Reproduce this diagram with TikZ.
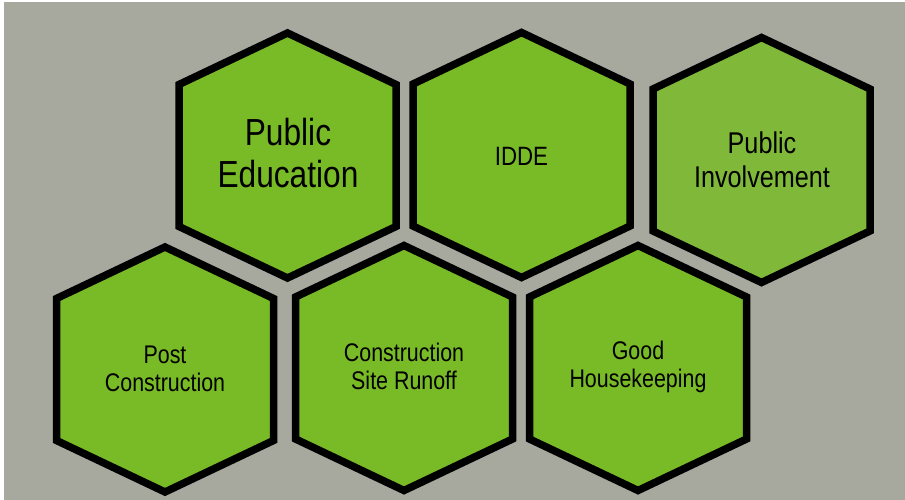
\documentclass[tikz,border=0pt]{standalone}
\usepackage{fontspec}
\setmainfont{Liberation Sans}
\newfontfamily\narrowsans[FakeStretch=0.84]{Liberation Sans}
\definecolor{boardgray}{HTML}{A7A89E}
\definecolor{leafgreen}{HTML}{79BB26}
\definecolor{paleleaf}{HTML}{80B93A}
\begin{document}
\begin{tikzpicture}[x=1pt,y=-1pt,
  hexline/.style={draw=black,line width=7.5pt,line join=miter,fill=leafgreen},
  celltext/.style={font=\narrowsans\fontsize{25.5}{27.5}\selectfont,align=center,text=black,inner sep=0pt},
  pics/hexcell/.style={code={
    \path[hexline,#1] (0,-122.5) -- (108.5,-71) -- (108.5,71) -- (0,122.5)
      -- (-108.5,71) -- (-108.5,-71) -- cycle;}},
  pics/hexcell/.default={}]
  % backdrop with thin light margin at top and left
  \fill[white] (0,0) rectangle (905,500);
  \fill[boardgray] (4,2) rectangle (905,500);
  \useasboundingbox (0,0) rectangle (905,500);

  % top row
  \pic at (287.5,155.5) {hexcell};
  \pic at (521.5,155) {hexcell};
  \pic at (761.5,160) {hexcell={fill=paleleaf}};
  % bottom row
  \pic at (165,369.5) {hexcell};
  \pic at (404,368) {hexcell};
  \pic at (638,368) {hexcell};

  \node[celltext,font=\narrowsans\fontsize{37.7}{42}\selectfont] (education) at (288,153) {Public\\Education};
  \node[celltext,font=\narrowsans\fontsize{26.5}{30}\selectfont] (idde) at (521.5,156) {IDDE};
  \node[celltext,font=\narrowsans\fontsize{30}{33.5}\selectfont] (involvement) at (762,160) {Public\\Involvement};
  \node[celltext] (postcon) at (165,369) {Post\\Construction};
  \node[celltext] (siterunoff) at (404,366.5) {Construction\\Site Runoff};
  \node[celltext] (housekeeping) at (638,367) {Good\\Housekeeping};
\end{tikzpicture}
\end{document}
